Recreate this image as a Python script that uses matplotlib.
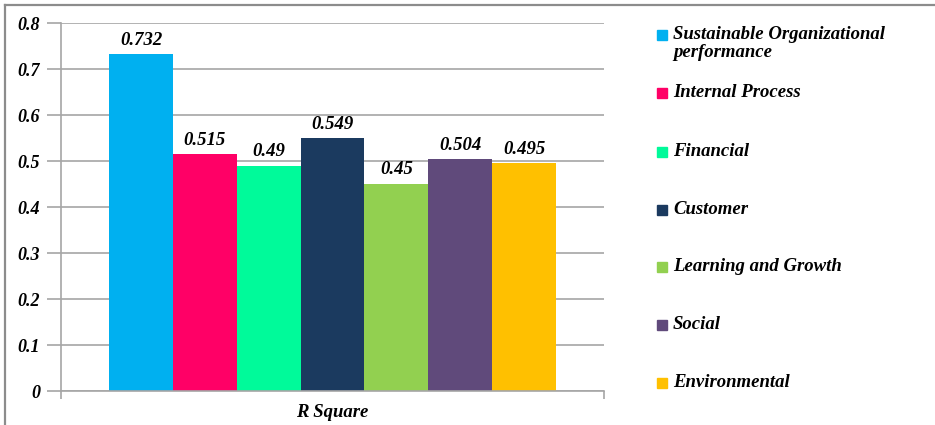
import matplotlib.pyplot as plt
from matplotlib.patches import Rectangle
from matplotlib.lines import Line2D

labels = ["Sustainable Organizational\nperformance", "Internal Process", "Financial",
          "Customer", "Learning and Growth", "Social", "Environmental"]
values = [0.732, 0.515, 0.49, 0.549, 0.45, 0.504, 0.495]
colors = ["#00B0F0", "#FF0066", "#00FA9A", "#1B3A5F", "#92D050", "#604A7B", "#FFC000"]
yticks = [0, 0.1, 0.2, 0.3, 0.4, 0.5, 0.6, 0.7, 0.8]
category = "R Square"

W, H = 935, 425
fnt = dict(family="Liberation Serif", weight="bold", style="italic")

fig = plt.figure(figsize=(W / 100, H / 100), dpi=100)

# outer frame (top and left edges only are visible)
fig.add_artist(Line2D([5 / W, 5 / W], [0, 1 - 5 / H], color="#8C8C8C", lw=1.6))
fig.add_artist(Line2D([5 / W, 1], [1 - 5 / H, 1 - 5 / H], color="#8C8C8C", lw=1.6))

ax = fig.add_axes([61 / W, 1 - 391 / H, (604 - 61) / W, (391 - 23) / H])

n = len(values)
bw = 0.823 / n
for i, (v, c) in enumerate(zip(values, colors)):
    x = -0.823 / 2 + bw * (i + 0.5)
    ax.bar(x, v, width=bw, color=c, zorder=2)
    ax.annotate(f"{v:g}", (x, v), xytext=(0, 4), textcoords="offset points",
                ha="center", va="bottom", fontsize=13.5, **fnt)

ax.set_xlim(-0.5, 0.5)
ax.set_ylim(0, 0.8)
ax.set_yticks(yticks)
ax.set_yticklabels([f"{t:g}" for t in yticks], fontsize=13, **fnt)
ax.yaxis.grid(True, color="#A6A6A6", lw=1.2, zorder=0)
ax.tick_params(axis="y", length=10, color="#A6A6A6", width=1.2, pad=5)

ax.set_xticks([-0.5, 0.5])
ax.set_xticklabels(["", ""])
ax.tick_params(axis="x", length=6, color="#A6A6A6", width=1.2)
ax.text(0, -0.035, category, transform=ax.get_xaxis_transform(), ha="center", va="top",
        fontsize=13.5, **fnt)

for s in ["top", "right"]:
    ax.spines[s].set_visible(False)
for s in ["left", "bottom"]:
    ax.spines[s].set_color("#A6A6A6")
    ax.spines[s].set_linewidth(1.2)

# legend drawn by hand to keep the wide row spacing
rows = [35, 93, 152, 210, 267, 325, 383]
for lab, c, y in zip(labels, colors, rows):
    fig.add_artist(Rectangle((657 / W, 1 - (y + 5) / H), 10 / W, 10 / H,
                             color=c, transform=fig.transFigure))
    fig.text(673 / W, 1 - (y - 9) / H, lab, ha="left", va="top", fontsize=13.5,
             linespacing=1.1, **fnt)

fig.savefig("out.png", dpi=100)
